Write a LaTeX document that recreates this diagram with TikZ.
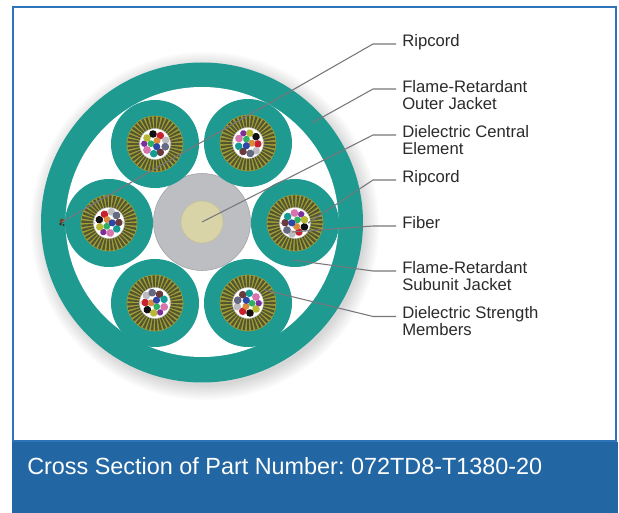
\documentclass[tikz,border=0pt]{standalone}
\usepackage{fontspec}
\setmainfont{Liberation Sans}
\frenchspacing
\definecolor{tealj}{HTML}{1E9A91}
\definecolor{leader}{HTML}{77777C}
\definecolor{txt}{HTML}{2B2B2D}
\definecolor{band}{HTML}{2266A3}
\definecolor{frameb}{HTML}{2E74B8}
\definecolor{olive}{HTML}{A0A038}
\definecolor{spoke}{HTML}{55552F}
\definecolor{cream}{HTML}{D8D4A8}
\definecolor{creamedge}{HTML}{C6C190}
\definecolor{coregray}{HTML}{BDBEC2}
\definecolor{fblack}{HTML}{111111}
\definecolor{fred}{HTML}{C8202E}
\definecolor{fgray}{HTML}{BCBCC0}
\definecolor{fslate}{HTML}{666A80}
\definecolor{fbrown}{HTML}{6B3A3C}
\definecolor{fteal}{HTML}{149C94}
\definecolor{fpink}{HTML}{D873AE}
\definecolor{fpurple}{HTML}{7C2E9C}
\definecolor{fyellow}{HTML}{B8B834}
\definecolor{fgreen}{HTML}{2EAF62}
\definecolor{forange}{HTML}{D98A3D}
\definecolor{fblue}{HTML}{2E46A8}
\definecolor{ripbrown}{HTML}{7A3E1E}
\definecolor{ripdark}{HTML}{3A2A20}
\tikzset{
  leaderline/.style={draw=leader,line width=0.8pt,line join=round},
  lab/.style={anchor=base west,inner sep=0pt,text=txt,font=\fontsize{12.5}{14}\selectfont},
  captiontext/.style={anchor=base west,inner sep=0pt,text=white,font=\fontsize{17.55}{22}\selectfont},
}
% subunit: centre x, centre y, fibre rotation (clockwise on screen)
\newcommand{\subunit}[3]{%
  \begin{scope}[shift={(#1,#2)}]
    \fill[tealj] (0,0) circle[radius=44];
    \fill[olive] (0,0) circle[radius=28.3];
    \foreach \a in {0,9,...,351}
      \fill[spoke,rotate=-#3] (0,0) -- (\a-2.6:27.6) -- (\a+2.6:27.6) -- cycle;
    \filldraw[fill=white,draw=fgray,line width=0.3pt] (0,0) circle[radius=15.5];
    \fill[fgray] (-15.2,0) circle[radius=1.2] (15.2,0) circle[radius=1.2];
    \begin{scope}[rotate=-#3]
      \foreach \c/\x/\y/\r in {
        fblack/-2/-10/3.8, fred/5.3/-8.3/3.8, fgray/10.7/-3.7/3.8,
        fslate/10.3/2.7/3.9, fbrown/5.3/8.3/3.8, fteal/-1.3/9.7/3.8,
        fpink/-8/6/3.9, fpurple/-10.7/-0.3/3.2, fyellow/-8/-6/3.8,
        fgreen/-4/-0.3/3.4, forange/2/-3.3/3.5, fblue/1.7/2.7/3.6}
        \fill[\c] (\x,\y) circle[radius=\r];
    \end{scope}
  \end{scope}}
\begin{document}
\begin{tikzpicture}[x=0.75pt,y=-0.75pt]
\useasboundingbox (0,0) rectangle (619,513);
\fill[white] (0,0) rectangle (619,513);
% panel
\draw[frameb,line width=1.1pt] (13,7) rectangle (616,441);
\fill[band] (12,442) rectangle (617.5,513);
% soft shadow of the cable
\foreach \r in {174,172,...,160}
  \fill[black,opacity=0.02] (205,226) circle[radius=\r];
% outer jacket
\fill[tealj] (202,222.5) ellipse[x radius=161,y radius=160];
\fill[white] (202,222) ellipse[x radius=136.5,y radius=135];
% central element
\filldraw[fill=coregray,draw=coregray!85!black,line width=0.4pt] (202,222) circle[radius=48.5];
\filldraw[fill=cream,draw=creamedge,line width=0.4pt] (202,222) circle[radius=21];
% subunits
\subunit{155}{144}{0}
\subunit{248}{143}{63}
\subunit{109}{223}{-60}
\subunit{295}{223}{124}
\subunit{155}{303}{-120}
\subunit{248}{303}{180}
% ripcord in the outer jacket
\fill[ripbrown] (62,221) circle[radius=2.2];
\fill[ripdark] (60.5,224) circle[radius=1.3] (63.5,225) circle[radius=1.2];
% leader points
\coordinate (s1) at (62,222);   \coordinate (k1) at (373,44);  \coordinate (e1) at (396,44);
\coordinate (s2) at (312,123);  \coordinate (k2) at (373,89);  \coordinate (e2) at (396,89);
\coordinate (s3) at (202,222);  \coordinate (k3) at (373,135); \coordinate (e3) at (396,135);
\coordinate (s4) at (308,223);  \coordinate (k4) at (373,180); \coordinate (e4) at (396,180);
\coordinate (s5) at (292,232);  \coordinate (k5) at (373,226); \coordinate (e5) at (396,226);
\coordinate (s6) at (293,260);  \coordinate (k6) at (373,271); \coordinate (e6) at (396,271);
\coordinate (s7) at (265,290);  \coordinate (k7) at (373,316.5); \coordinate (e7) at (396,316.5);
\foreach \i in {1,...,7}
  \draw[leaderline] (s\i) -- (k\i) -- (e\i);
% labels
\node[lab] (l1) at (402,46.7) {Ripcord};
\node[lab] (l2a) at (402,92.7) {Flame-Retardant};
\node[lab] (l2b) at (402,110) {Outer Jacket};
\node[lab] (l3a) at (402,138) {Dielectric Central};
\node[lab] (l3b) at (402,154.7) {Element};
\node[lab] (l4) at (402,182.7) {Ripcord};
\node[lab] (l5) at (402,229) {Fiber};
\node[lab] (l6a) at (402,274) {Flame-Retardant};
\node[lab] (l6b) at (402,290.7) {Subunit Jacket};
\node[lab] (l7a) at (402,318.3) {Dielectric Strength};
\node[lab] (l7b) at (402,335.7) {Members};
\node[captiontext] (cap) at (27,475) {Cross Section of Part Number: 072TD8-T1380-20};
\end{tikzpicture}
\end{document}
